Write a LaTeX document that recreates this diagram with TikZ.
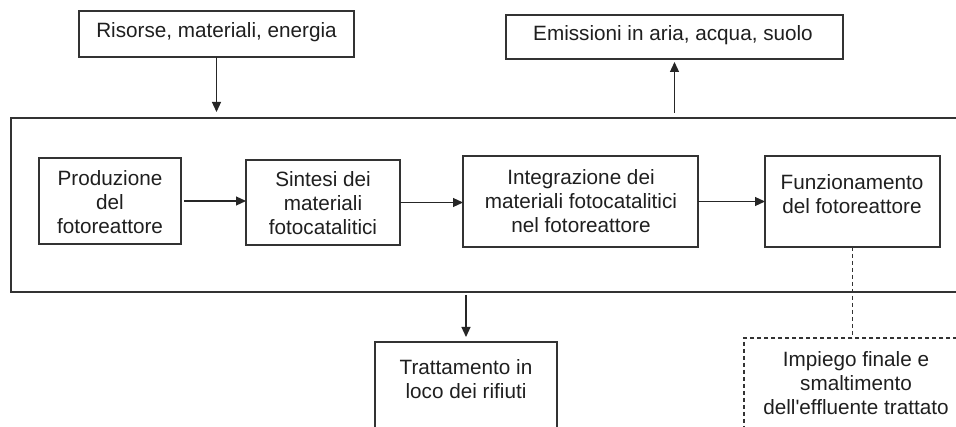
\documentclass[tikz,border=0pt]{standalone}
\usepackage{fontspec}
\setmainfont{Liberation Sans}
\usetikzlibrary{arrows.meta}
\begin{document}
\begin{tikzpicture}[x=1pt,y=-1pt,
  box/.style={draw=black!80, line width=1.2pt, inner sep=0pt, outer sep=0pt, rectangle},
  dbox/.style={box, dash pattern=on 4pt off 3pt},
  txt/.style={inner sep=0pt, align=center, text=black!88, font=\fontsize{20.7}{23.8}\selectfont},
  arr/.style={draw=black!85, line width=1.2pt, -{Triangle[length=10pt,width=9pt]}},
  dline/.style={draw=black!80, line width=1.2pt, dash pattern=on 4pt off 3pt}]
\useasboundingbox (0,0) rectangle (956,427);
\clip (0,0) rectangle (956,427);
\fill[white] (0,0) rectangle (956,427);
% boxes
\node[box, minimum width=275pt, minimum height=46pt] (ris) at (216.5,34) {};
\node[box, minimum width=337pt, minimum height=44pt] (emi) at (674.5,37) {};
\node[box, minimum width=964pt, minimum height=174pt] (outer) at (493,205) {};
\node[box, minimum width=142pt, minimum height=86pt] (prod) at (110,201) {};
\node[box, minimum width=154pt, minimum height=85pt] (sint) at (323,202.5) {};
\node[box, minimum width=235pt, minimum height=91pt] (integ) at (580.5,201.5) {};
\node[box, minimum width=175pt, minimum height=91pt] (funz) at (852.5,201.5) {};
\node[box, minimum width=182pt, minimum height=118pt] (tratt) at (466,401) {};
\node[dbox, minimum width=224pt, minimum height=122pt] (disp) at (856,399) {};
% texts
\node[txt] (ris-t) at (216.5,32) {Risorse, materiali, energia};
\node[txt] (emi-t) at (673,35) {Emissioni in aria, acqua, suolo};
\node[txt] (prod-t) at (110,202) {Produzione\\del\\fotoreattore};
\node[txt] (sint-t) at (323,203) {Sintesi dei\\materiali\\fotocatalitici};
\node[txt] (integ-t) at (581,201) {Integrazione dei\\materiali fotocatalitici\\nel fotoreattore};
\node[txt] (funz-t) at (852,194) {Funzionamento\\del fotoreattore};
\node[txt] (tratt-t) at (466,379) {Trattamento in\\loco dei rifiuti};
\node[txt] (disp-t) at (856,383) {Impiego finale e\\smaltimento\\dell\textquotesingle effluente trattato};
% connectors
\draw[arr, shorten >=6pt] (ris.south) -- (ris.south |- outer.north);
\draw[arr, shorten <=5pt, shorten >=3pt] (outer.north -| emi.south) -- (emi.south);
\draw[arr, shorten <=3pt] (prod.east) -- (prod.east -| sint.west);
\draw[arr] (sint.east) -- (sint.east -| integ.west);
\draw[arr] (integ.east) -- (integ.east -| funz.west);
\draw[arr, shorten <=3pt, shorten >=5pt] (outer.south -| tratt.north) -- (tratt.north);
\draw[dline] (funz.south) -- (funz.south |- disp.north);
\end{tikzpicture}
\end{document}
